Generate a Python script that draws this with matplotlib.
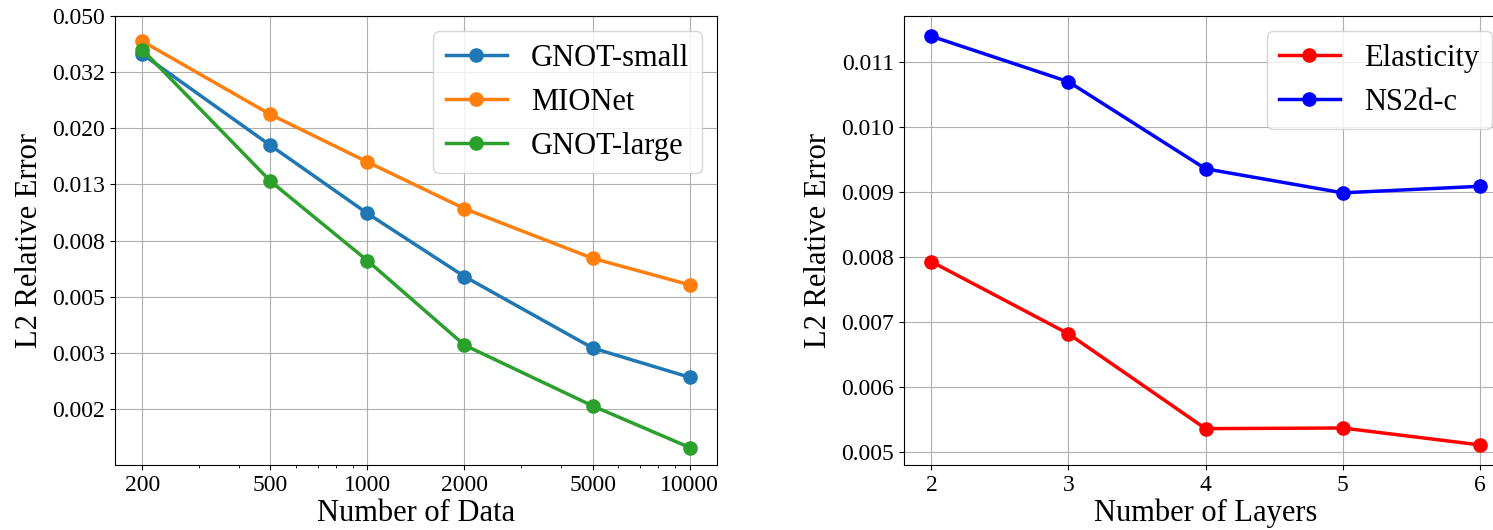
import matplotlib.pyplot as plt
import numpy as np
from matplotlib.ticker import FixedLocator, FormatStrFormatter, NullFormatter

plt.rcParams['font.family'] = ['Liberation Serif', 'DejaVu Serif']

n_data = [200, 500, 1000, 2000, 5000, 10000]
gnot_small = [0.0366, 0.0173, 0.0099, 0.0059, 0.00328, 0.00258]
mionet = [0.0407, 0.0223, 0.0151, 0.0103, 0.00685, 0.00551]
gnot_large = [0.0380, 0.0129, 0.00672, 0.00336, 0.00204, 0.00145]

n_layers = [2, 3, 4, 5, 6]
elasticity = [0.00793, 0.00682, 0.00536, 0.00537, 0.00511]
ns2d_c = [0.01140, 0.01070, 0.00936, 0.00899, 0.00909]

left_yticks = [0.05 * 10 ** (-0.2 * k) for k in range(8)]

fig = plt.figure(figsize=(14.93, 5.30), dpi=100)
ax1 = fig.add_axes([0.077, 0.1226, 0.4032, 0.847])
ax2 = fig.add_axes([0.6055, 0.1226, 0.4039, 0.847])

ax1.plot(n_data, gnot_small, marker='o', lw=2.5, ms=9.5, label='GNOT-small')
ax1.plot(n_data, mionet, marker='o', lw=2.5, ms=9.5, label='MIONet')
ax1.plot(n_data, gnot_large, marker='o', lw=2.5, ms=9.5, label='GNOT-large')
ax1.set_xscale('log')
ax1.set_yscale('log')
ax1.set_xlim(164.6, 12150)
ax1.set_ylim(0.05 * 10 ** -1.6, 0.05)
ax1.xaxis.set_major_locator(FixedLocator(n_data))
ax1.xaxis.set_major_formatter(FormatStrFormatter('%d'))
ax1.xaxis.set_minor_formatter(NullFormatter())
ax1.yaxis.set_major_locator(FixedLocator(left_yticks))
ax1.yaxis.set_major_formatter(FormatStrFormatter('%.3f'))
ax1.yaxis.set_minor_locator(FixedLocator([]))
ax1.grid(True, which='major')
ax1.set_xlabel('Number of Data', fontsize=22, labelpad=2)
ax1.set_ylabel('L2 Relative Error', fontsize=22, labelpad=6)
ax1.tick_params(labelsize=17)
ax1.legend(fontsize=22, loc='upper right')

ax2.plot(n_layers, elasticity, color='red', marker='o', lw=2.5, ms=9.5, label='Elasticity')
ax2.plot(n_layers, ns2d_c, color='blue', marker='o', lw=2.5, ms=9.5, label='NS2d-c')
ax2.set_xlim(1.8, 6.2)
ax2.set_ylim(0.0048, 0.01171)
ax2.set_xticks(n_layers)
ax2.yaxis.set_major_formatter(FormatStrFormatter('%.3f'))
ax2.grid(True)
ax2.set_xlabel('Number of Layers', fontsize=22, labelpad=2)
ax2.set_ylabel('L2 Relative Error', fontsize=22, labelpad=6)
ax2.tick_params(labelsize=17)
ax2.legend(fontsize=22, loc='upper right')

fig.savefig('out.png', dpi=100)
